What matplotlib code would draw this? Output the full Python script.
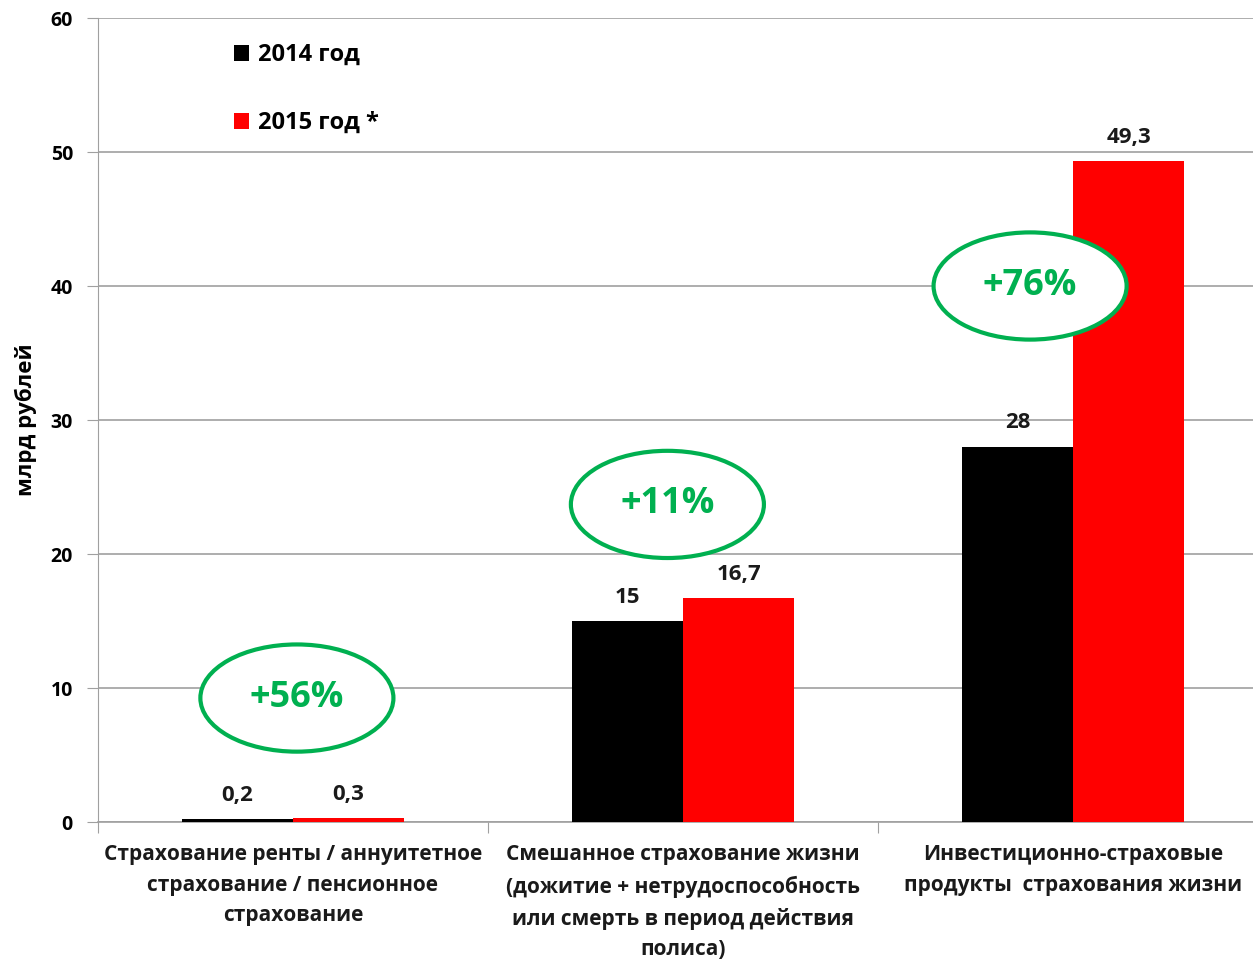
import matplotlib.pyplot as plt
from matplotlib.patches import Ellipse
import numpy as np

plt.rcParams['font.family'] = ['Open Sans', 'DejaVu Sans']
plt.rcParams['font.weight'] = 'bold'

categories = ['Страхование ренты / аннуитетное\nстрахование / пенсионное\nстрахование',
              'Смешанное страхование жизни\n(дожитие + нетрудоспособность\nили смерть в период действия\nполиса)',
              'Инвестиционно-страховые\nпродукты  страхования жизни']
vals_2014 = [0.2, 15, 28]
vals_2015 = [0.3, 16.7, 49.3]
labels_2014 = ['0,2', '15', '28']
labels_2015 = ['0,3', '16,7', '49,3']
growth = ['+56%', '+11%', '+76%']
growth_pos = [(0.01, 9.25), (0.96, 23.7), (1.89, 40.0)]

fig = plt.figure(figsize=(12.53, 9.6), dpi=100)
# axes right edge runs past the image edge, like the cropped original
ax = fig.add_axes([98/1253, 1-822/960, 1170/1253, (822-18)/960])

x = np.arange(len(categories))
w = 0.285
ax.bar(x - w/2, vals_2014, w, color='black', label='2014 год', zorder=3)
ax.bar(x + w/2, vals_2015, w, color='#ff0000', label='2015 год *', zorder=3)

for i in range(len(categories)):
    ax.text(x[i] - w/2, vals_2014[i] + 1.0, labels_2014[i], ha='center', va='bottom',
            fontsize=16, fontweight='bold', color='#1a1a1a', zorder=5)
    ax.text(x[i] + w/2, vals_2015[i] + 1.0, labels_2015[i], ha='center', va='bottom',
            fontsize=16, fontweight='bold', color='#1a1a1a', zorder=5)

for (gx, gy), g in zip(growth_pos, growth):
    e = Ellipse((gx, gy), 0.495, 8.0, facecolor='white', edgecolor='#00b050', lw=3, zorder=4)
    ax.add_patch(e)
    ax.text(gx, gy, g, ha='center', va='center', fontsize=26, fontweight='bold',
            color='#00b050', zorder=5)

ax.set_xlim(-0.5, 2.5)
ax.set_ylim(0, 60)
ax.set_yticks(range(0, 61, 10))
ax.tick_params(axis='y', labelsize=14, length=8, color='#a0a0a0', pad=10)
ax.set_xticks([-0.5, 0.5, 1.5, 2.5])
ax.set_xticklabels([])
ax.tick_params(axis='x', length=8, color='#a0a0a0')
ax.set_xticks(x, minor=True)
ax.set_xticklabels(categories, minor=True, fontsize=15, fontweight='bold', color='#1a1a1a',
                   linespacing=1.6)
ax.tick_params(axis='x', which='minor', length=0, pad=16)
for lbl in ax.get_yticklabels():
    lbl.set_fontweight('bold')

ax.yaxis.grid(True, color='#a0a0a0', lw=1.2, zorder=0)
for s in ['top', 'right']:
    ax.spines[s].set_visible(False)
ax.spines['left'].set_color('#a0a0a0')
ax.spines['bottom'].set_color('#a0a0a0')
ax.spines['bottom'].set_linewidth(1.2)

ax.set_ylabel('млрд рублей', fontsize=16, fontweight='bold', labelpad=10)

leg = ax.legend(loc='upper left', bbox_to_anchor=(0.098, 0.995), frameon=False,
                fontsize=17, handlelength=0.65, handleheight=0.65, handletextpad=0.35,
                labelspacing=1.85)
for t in leg.get_texts():
    t.set_fontweight('bold')

plt.savefig('out.png', dpi=100)
